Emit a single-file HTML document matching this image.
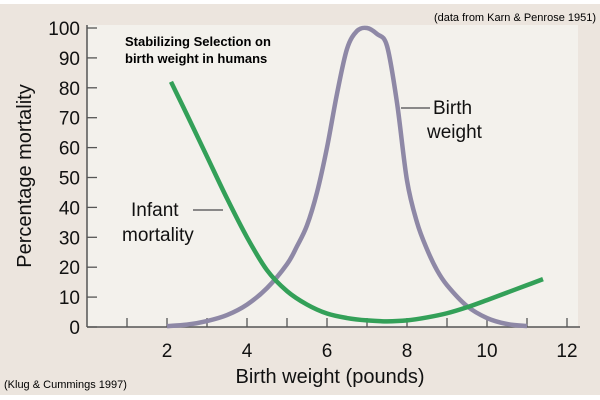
<!DOCTYPE html>
<html><head><meta charset="utf-8"><style>
html,body{margin:0;padding:0;width:600px;height:400px;overflow:hidden;background:#fff}
svg{display:block}
text{font-family:"Liberation Sans",sans-serif}
</style></head><body>
<svg width="600" height="400">
<rect x="0" y="4" width="600" height="391" fill="#ece5de"/>
<rect x="87" y="25" width="491" height="302" fill="#f3f1ec"/>
<g id="axes"></g>
<g id="series"></g>
<text x="596" y="21" font-size="11" text-anchor="end">(data from Karn &amp; Penrose 1951)</text>
<text x="4" y="388" font-size="11">(Klug &amp; Cummings 1997)</text>
<text x="125" y="46" font-size="13" font-weight="bold">Stabilizing Selection on</text>
<text x="125" y="63" font-size="13" font-weight="bold">birth weight in humans</text>
<text x="330" y="383" font-size="20" text-anchor="middle" fill="#111">Birth weight (pounds)</text>
<text transform="translate(31,176) rotate(-90)" font-size="20" text-anchor="middle" fill="#111">Percentage mortality</text>
<line x1="401" y1="108" x2="430" y2="108" stroke="#666" stroke-width="1.5"/>
<text x="433" y="114" font-size="19" fill="#111">Birth</text>
<text x="427" y="138" font-size="19" fill="#111">weight</text>
<line x1="193" y1="210" x2="223" y2="210" stroke="#666" stroke-width="1.5"/>
<text x="131" y="216" font-size="19" fill="#111">Infant</text>
<text x="122" y="241" font-size="19" fill="#111">mortality</text>
</svg>
<script>
const xTicks=[2,4,6,8,10,12];
const yTicks=[0,10,20,30,40,50,60,70,80,90,100];
const birthX=[2,2.5,3,3.5,4,4.5,5,5.25,5.5,5.75,6,6.25,6.5,6.75,7,7.25,7.5,7.75,8,8.25,8.5,8.75,9,9.5,10,10.5,11];
const birthY=[0.3,0.8,2,4,7.5,13,21,27,34,45,60,78,93,99,100,98,94,75,49,35,26,19,14,7,3,1,0.3];
const mortX=[2.1,2.5,3,3.5,4,4.5,5,5.5,6,6.5,7,7.5,8,8.5,9,9.5,10,10.5,11,11.4];
const mortY=[82,71,57,43,30,19,12,7.5,4.5,3,2.2,1.9,2.2,3.2,4.6,6.6,9,11.5,14,16];
const NS='http://www.w3.org/2000/svg';
const sx=v=>87+40*v, sy=v=>327-2.99*v;
const ax=document.getElementById('axes'), se=document.getElementById('series');
function mk(tag,attrs,parent){const e=document.createElementNS(NS,tag);for(const k in attrs)e.setAttribute(k,attrs[k]);parent.appendChild(e);return e;}
let l=mk('line',{x1:87,y1:327,x2:580,y2:327,stroke:'#555','stroke-width':1.5},ax);


l=mk('line',{x1:87,y1:25,x2:87,y2:327,stroke:'#555','stroke-width':1.5},ax);


for(let i=1;i<=12;i++){const t=mk('line',{x1:sx(i),y1:327,x2:sx(i),y2:318,stroke:'#555','stroke-width':1.3},ax);

}
xTicks.forEach(v=>{const t=mk('text',{x:sx(v),y:357,'font-size':19,'text-anchor':'middle',fill:'#111'},ax);t.textContent=v;

});
yTicks.forEach(v=>{const k=mk('line',{x1:87,y1:sy(v),x2:97,y2:sy(v),stroke:'#555','stroke-width':1.3},ax);


const t=mk('text',{x:80,y:sy(v)+7,'font-size':19,'text-anchor':'end',fill:'#111'},ax);t.textContent=v;

});
function path(xs,ys){const p=xs.map((x,i)=>[sx(x),sy(ys[i])]);let d='M'+p[0][0]+','+p[0][1];
for(let i=0;i<p.length-1;i++){const p0=p[i-1]||p[i],p1=p[i],p2=p[i+1],p3=p[i+2]||p2;
d+=' C'+(p1[0]+(p2[0]-p0[0])/6)+','+(p1[1]+(p2[1]-p0[1])/6)+' '+(p2[0]-(p3[0]-p1[0])/6)+','+(p2[1]-(p3[1]-p1[1])/6)+' '+p2[0]+','+p2[1];}return d;}
let b=mk('path',{d:path(birthX,birthY),fill:'none',stroke:'#8e88a6','stroke-width':4.5,'stroke-linejoin':'round'},se);


let m=mk('path',{d:path(mortX,mortY),fill:'none',stroke:'#33a058','stroke-width':4.5,'stroke-linejoin':'round'},se);


</script>
</body></html>
